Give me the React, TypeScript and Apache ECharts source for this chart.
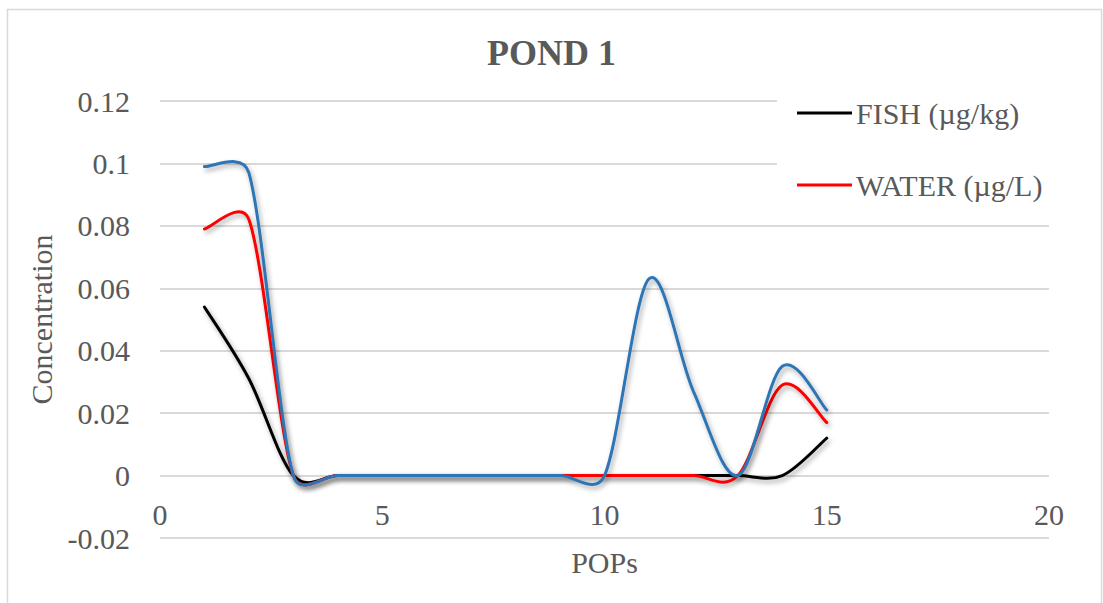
import React, { useEffect, useRef } from "react";
import * as echarts from "echarts";

const popIndex = [1, 2, 3, 4, 5, 6, 7, 8, 9, 10, 11, 12, 13, 14, 15];
const fish = [0.054, 0.031, 0, 0, 0, 0, 0, 0, 0, 0, 0, 0, 0, 0, 0.012];
const water = [0.079, 0.082, 0, 0, 0, 0, 0, 0, 0, 0, 0, 0, 0, 0.029, 0.017];
const third = [0.099, 0.097, 0, 0, 0, 0, 0, 0, 0, 0, 0.063, 0.027, 0, 0.035, 0.021];

const seriesNames = ["FISH (µg/kg)", "WATER (µg/L)", "SEDIMENT"];
const seriesColors = ["#000000", "#FF0000", "#2E75B6"];

const FONT = "'Liberation Serif', 'Times New Roman', serif";
const GRAY = "#595959";

// Excel-style smoothed curve through pixel points
function smoothPath(pts: number[][]): string {
  const n = pts.length;
  const before: number[][] = [];
  const after: number[][] = [];
  for (let i = 0; i < n; i++) {
    const p = pts[i];
    const prev = pts[i - 1] || p;
    const next = pts[i + 1] || p;
    const dx = next[0] - prev[0];
    const dy = next[1] - prev[1];
    const d02 = Math.hypot(dx, dy);
    const d01 = Math.hypot(p[0] - prev[0], p[1] - prev[1]);
    const d12 = Math.hypot(next[0] - p[0], next[1] - p[1]);
    let fb = 1 / 6;
    let fa = 1 / 6;
    if (d02 / 6 >= d01 / 2) fb = d02 > 0 ? d01 / (2 * d02) : 0;
    if (d02 / 6 >= d12 / 2) fa = d02 > 0 ? d12 / (2 * d02) : 0;
    before.push([p[0] - dx * fb, p[1] - dy * fb]);
    after.push([p[0] + dx * fa, p[1] + dy * fa]);
  }
  let d = `M${pts[0][0]},${pts[0][1]}`;
  for (let i = 0; i < n - 1; i++) {
    const a = after[i];
    const b = before[i + 1];
    const q = pts[i + 1];
    d += ` C${a[0]},${a[1]} ${b[0]},${b[1]} ${q[0]},${q[1]}`;
  }
  return d;
}

export default function App() {
  const ref = useRef<HTMLDivElement>(null);
  useEffect(() => {
    if (!ref.current) return;
    const chart = echarts.init(ref.current, undefined, { renderer: "svg" });
    const all = [fish, water, third];
    const series = all.map((vals, i) => ({
      name: seriesNames[i],
      type: "custom",
      coordinateSystem: "cartesian2d",
      data: popIndex.map((x, j) => [x, vals[j]]),
      encode: { x: 0, y: 1 },
      z: 2 + i,
      clip: false,
      itemStyle: { color: seriesColors[i] },
      renderItem: (params: any, api: any) => {
        if (params.dataIndex !== 0) return null;
        const pts = popIndex.map((x, j) => api.coord([x, vals[j]]));
        return {
          type: "path",
          shape: { pathData: smoothPath(pts) },
          style: {
            fill: "none",
            stroke: seriesColors[i],
            lineWidth: 3,
            lineJoin: "round",
            lineCap: "round",
            shadowColor: "rgba(0,0,0,0.35)",
            shadowBlur: 5,
            shadowOffsetX: 2,
            shadowOffsetY: 3,
          },
          silent: true,
        };
      },
    }));
    chart.setOption({
      animation: false,
      backgroundColor: "#ffffff",
      textStyle: { fontFamily: FONT },
      title: {
        text: "POND 1",
        left: "center",
        top: 35,
        padding: 0,
        textStyle: { fontFamily: FONT, fontSize: 36, fontWeight: "bold", color: GRAY },
      },
      legend: {
        data: [seriesNames[0], seriesNames[1]],
        orient: "vertical",
        left: 777,
        top: 95,
        padding: [3, 10, 3, 20],
        itemWidth: 55,
        itemHeight: 3,
        itemGap: 42,
        icon: "rect",
        backgroundColor: "#ffffff",
        textStyle: { fontFamily: FONT, fontSize: 30, color: GRAY, padding: [0, 0, 0, -1] },
      },
      grid: { left: 160, right: 54, top: 101, bottom: 65, outerBoundsMode: "none", containLabel: false },
      xAxis: {
        type: "value",
        min: 0,
        max: 20,
        interval: 5,
        position: "bottom",
        offset: -63,
        name: "POPs",
        nameLocation: "middle",
        nameGap: 72,
        nameTextStyle: { fontFamily: FONT, fontSize: 30, color: GRAY },
        axisLine: { show: false, onZero: false },
        axisTick: { show: false },
        splitLine: { show: false },
        axisLabel: { fontFamily: FONT, fontSize: 30, color: GRAY, margin: 24 },
      },
      yAxis: {
        type: "value",
        min: -0.02,
        max: 0.12,
        interval: 0.02,
        name: "Concentration",
        nameLocation: "middle",
        nameGap: 104,
        nameTextStyle: { fontFamily: FONT, fontSize: 30, color: GRAY },
        axisLine: { show: false },
        axisTick: { show: false },
        splitLine: { lineStyle: { color: "#d9d9d9", width: 2 } },
        axisLabel: {
          fontFamily: FONT,
          fontSize: 30,
          color: GRAY,
          margin: 30,
          formatter: (v: number) => String(parseFloat(v.toFixed(2))),
        },
      },
      graphic: [
        {
          type: "rect",
          shape: { x: 7.5, y: 9.5, width: 1094, height: 700 },
          style: { fill: "none", stroke: "#d9d9d9", lineWidth: 1.5 },
          silent: true,
          z: 0,
        },
      ],
      series,
    });
    return () => chart.dispose();
  }, []);
  return (
    <div
      ref={ref}
      style={{ position: "fixed", left: 0, top: 0, width: 1103, height: 603 }}
    />
  );
}
